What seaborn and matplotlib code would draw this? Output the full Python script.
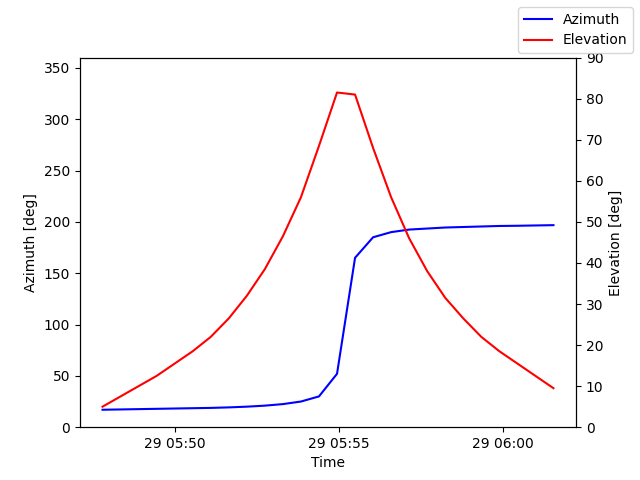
import matplotlib
matplotlib.use("Agg")
import matplotlib.pyplot as plt
import matplotlib.dates as mdates
import seaborn as sns
import pandas as pd
import numpy as np

times = pd.date_range("2024-01-29 05:47:48", periods=26, freq="33s")
azimuth = [17, 17.3, 17.6, 17.9, 18.2, 18.5, 18.8, 19.3, 20, 21, 22.5, 25, 30, 52,
           165, 185, 190, 192.5, 193.5, 194.5, 195, 195.5, 196, 196.2, 196.5, 196.8]
elevation = [5, 7.5, 10, 12.5, 15.5, 18.5, 22, 26.5, 32, 38.5, 46.5, 56, 68.5, 81.5,
             81, 68, 56, 46, 38, 31.5, 26.5, 22, 18.5, 15.5, 12.5, 9.5]

df = pd.DataFrame({"Time": times, "Azimuth": azimuth, "Elevation": elevation})

fig, ax = plt.subplots(figsize=(6.4, 4.8), dpi=100)
sns.lineplot(data=df, x="Time", y="Azimuth", ax=ax, color="blue", label="Azimuth", legend=False)
ax2 = ax.twinx()
sns.lineplot(data=df, x="Time", y="Elevation", ax=ax2, color="red", label="Elevation", legend=False)
ax.set_ylim(0, 360)
ax2.set_ylim(0, 90)
ax.set_ylabel("Azimuth [deg]")
ax2.set_ylabel("Elevation [deg]")
ax.set_xlabel("Time")
ax.xaxis.set_major_locator(mdates.MinuteLocator(byminute=[50, 55, 0]))
ax.xaxis.set_major_formatter(mdates.DateFormatter("%d %H:%M"))
fig.legend(loc="upper right")
fig.savefig("out.png")
